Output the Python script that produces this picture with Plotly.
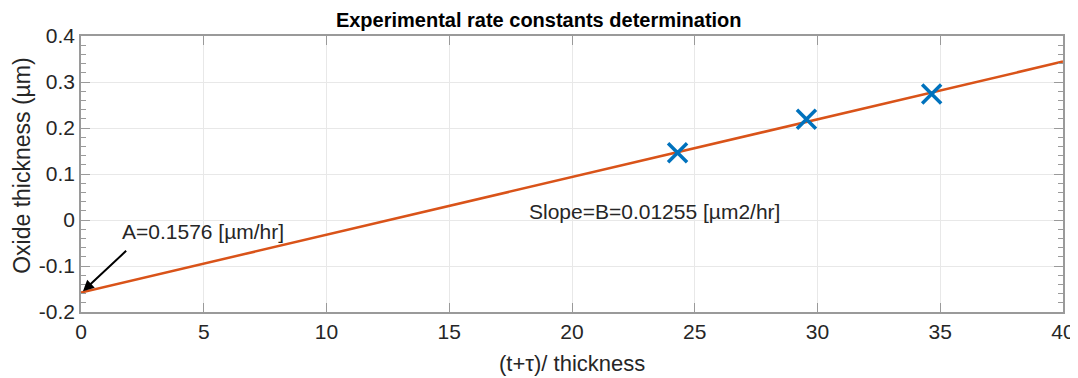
import plotly.graph_objects as go

# Data
x_points = [24.3, 29.55, 34.65]
y_points = [0.146, 0.219, 0.274]
fit_x = [0, 40]
fit_y = [-0.1576, 0.3444]
x_ticks = [0, 5, 10, 15, 20, 25, 30, 35, 40]
y_ticks = [-0.2, -0.1, 0, 0.1, 0.2, 0.3, 0.4]
y_tick_labels = ["-0.2", "-0.1", "0", "0.1", "0.2", "0.3", "0.4"]

FONT = "Liberation Sans, Arial, sans-serif"
AXC = "#9a9a9a"
TXT = "#262626"

fig = go.Figure()
fig.add_trace(go.Scatter(x=fit_x, y=fit_y, mode="lines",
                         line=dict(color="#D95319", width=2.5),
                         showlegend=False, hoverinfo="skip"))
fig.add_trace(go.Scatter(x=x_points, y=y_points, mode="markers",
                         marker=dict(symbol="x-thin", size=19,
                                     line=dict(color="#0072BD", width=3.5),
                                     color="#0072BD"),
                         showlegend=False))

# The page body adds an 8px offset, so the figure is 8px smaller and shifted margins.
fig.update_layout(
    width=1070, height=370,
    margin=dict(l=73, r=15, t=28, b=66, autoexpand=False),
    paper_bgcolor="white", plot_bgcolor="white",
    font=dict(family=FONT, size=21, color=TXT),
    title=dict(text="<b>Experimental rate constants determination</b>",
               x=0.496, xanchor="center", xref="container",
               y=1, yref="container", yanchor="top", pad=dict(t=5),
               automargin=False,
               font=dict(family=FONT, size=20, color="#000000")),
    xaxis=dict(range=[0, 40], tickvals=x_ticks, ticktext=[str(v) for v in x_ticks],
               showline=True, linecolor=AXC, linewidth=1.5, mirror="ticks",
               ticks="inside", ticklen=9, tickcolor=AXC, tickwidth=1,
               showgrid=True, gridcolor="#e8e8e8", gridwidth=1,
               zeroline=False, automargin=False,
               tickfont=dict(family=FONT, size=21, color=TXT)),
    yaxis=dict(range=[-0.2, 0.4], tickvals=y_ticks, ticktext=y_tick_labels,
               showline=True, linecolor=AXC, linewidth=1.5, mirror="ticks",
               ticks="inside", ticklen=9, tickcolor=AXC, tickwidth=1,
               minor=dict(dtick=0.02, ticks="inside", ticklen=5, tickcolor=AXC,
                          showgrid=False),
               showgrid=True, gridcolor="#e8e8e8", gridwidth=1,
               zeroline=False, automargin=False,
               tickfont=dict(family=FONT, size=21, color=TXT)),
)

# Axis titles
fig.add_annotation(x=-0.06, y=0.53, xref="paper", yref="paper",
                   text="Oxide thickness (µm)", textangle=-90, showarrow=False,
                   xanchor="center", yanchor="middle",
                   font=dict(family=FONT, size=23, color=TXT))
fig.add_annotation(x=0.5, y=-0.185, xref="paper", yref="paper",
                   text="(t+τ)/ thickness", showarrow=False,
                   xanchor="center", yanchor="middle",
                   font=dict(family=FONT, size=22, color=TXT))

fig.add_annotation(x=0.08, y=-0.155, ax=1.9, ay=-0.064,
                   xref="x", yref="y", axref="x", ayref="y",
                   text="", showarrow=True, arrowhead=2, arrowsize=1.1,
                   arrowwidth=2, arrowcolor="#000000")
fig.add_annotation(x=1.6, y=-0.026, xref="x", yref="y", text="A=0.1576 [µm/hr]",
                   showarrow=False, xanchor="left", yanchor="middle",
                   font=dict(family=FONT, size=21, color=TXT))
fig.add_annotation(x=18.15, y=0.018, xref="x", yref="y",
                   text="Slope=B=0.01255 [µm2/hr]",
                   showarrow=False, xanchor="left", yanchor="middle",
                   font=dict(family=FONT, size=21, color=TXT))

fig.write_html("out.html")
